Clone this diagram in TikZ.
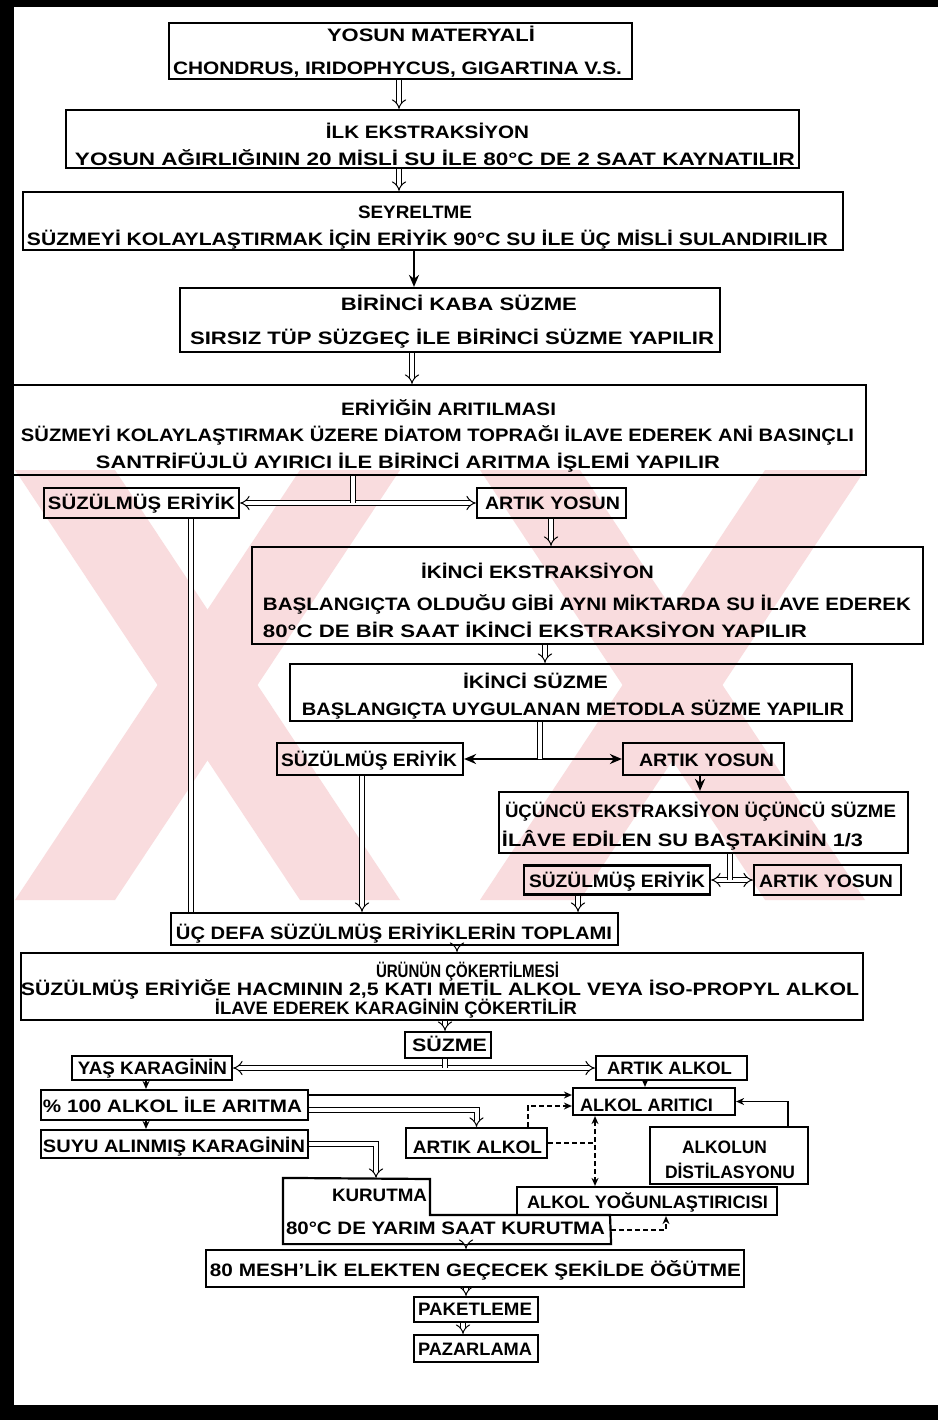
\documentclass[tikz,border=0pt]{standalone}
\usepackage{fontspec}
\setmainfont{Liberation Sans}
\usepackage{graphicx}
\usetikzlibrary{arrows.meta}

\newlength{\pxu}
\setlength{\pxu}{1pt}
% one line of text, stretched to a width given in pixels
\newcommand{\satir}[2]{\resizebox{#1\pxu}{\height}{#2}}

\definecolor{filigran}{RGB}{249,220,222}

\tikzset{
  kutu/.style 2 args={draw, line width=2.2pt, inner sep=0pt,
    minimum width=#1pt, minimum height=#2pt},
  yazi/.style={inner sep=0pt, font=\fontsize{18}{18}\selectfont\bfseries,
    text height=12.8pt, text depth=0pt},
  cift/.style={double, line width=1pt, double distance=4pt, -{Implies}},
  tek/.style={line width=2.8pt, -{Stealth[length=12pt,width=10pt]}},
  ince/.style={line width=1.6pt, -{Stealth[length=8pt,width=7pt]}},
  kesik/.style={line width=1.6pt, dash pattern=on 5pt off 3pt},
  uc/.style={-{Stealth[length=8pt,width=7pt]}},
  ikiuc/.style={{Stealth[length=8pt,width=7pt]}-{Stealth[length=8pt,width=7pt]}},
}

\begin{document}
\begin{tikzpicture}[x=1pt, y=-1pt]
  \useasboundingbox (0,0) rectangle (937,1420);
  \fill[white] (-20,-20) rectangle (960,1440);

  % watermark
  \fill[filigran] (15,470) -- (115,470) -- (400,900) -- (300,900) -- cycle;
  \fill[filigran] (300,470) -- (400,470) -- (115,900) -- (15,900) -- cycle;
  \fill[filigran] (480,470) -- (580,470) -- (865,900) -- (765,900) -- cycle;
  \fill[filigran] (765,470) -- (865,470) -- (580,900) -- (480,900) -- cycle;

  % page frame
  \fill (-20,-20) rectangle (960,7);
  \fill (-20,-20) rectangle (14,1440);
  \fill (-20,1405) rectangle (960,1440);

  % boxes
  \node[kutu={463}{56}] (yosun) at (400.5,51) {};
  \node[kutu={733}{58}] (ilk) at (432.5,139) {};
  \node[kutu={820}{58}] (seyrel) at (433,221) {};
  \node[kutu={540}{64}] (birinci) at (450,320) {};
  \node[kutu={854}{90}] (aritma) at (439,430) {};
  \node[kutu={195}{30}] (suz1) at (141.5,503) {};
  \node[kutu={149}{30}] (artik1) at (551.5,503) {};
  \node[kutu={671}{97}] (ikinci) at (587.5,595.5) {};
  \node[kutu={562}{57}] (isuzme) at (571,692.5) {};
  \node[kutu={186}{32}] (suz2) at (370,759) {};
  \node[kutu={161}{32}] (artik2) at (703.5,759) {};
  \node[kutu={409}{61}] (ucuncu) at (703.5,822.5) {};
  \node[kutu={186}{29}] (suz3) at (617,880) {};
  \node[kutu={147}{30}] (artik3) at (827.5,880) {};
  \node[kutu={447}{32}] (toplam) at (394.5,929) {};
  \node[kutu={842}{67}] (cokelme) at (442,986.5) {};
  \node[kutu={86}{26}] (suzme) at (448,1045) {};
  \node[kutu={160}{24}] (yas) at (152,1068) {};
  \node[kutu={151}{24}] (aalkol1) at (671.5,1068) {};
  \node[kutu={267}{30}] (yuzde) at (174.5,1105) {};
  \node[kutu={267}{28}] (suyu) at (174.5,1144) {};
  \node[kutu={162}{27}] (aritici) at (654,1101.5) {};
  \node[kutu={141}{30}] (aalkol2) at (476.5,1143) {};
  \node[kutu={158}{57}] (distil) at (729,1155.5) {};
  \node[kutu={260}{28}] (yogun) at (647,1201) {};
  \node[kutu={326}{64}, draw=none] (kurutma) at (447,1211) {};
  \draw[line width=2.2pt] (kurutma.north west) -- (430,1179) -- (430,1215)
    -- (610,1215) -- (kurutma.south east) -- (kurutma.south west) -- cycle;
  \node[kutu={538}{37}] (mesh) at (475,1268.5) {};
  \node[kutu={124}{25}] (paket) at (476,1309.5) {};
  \node[kutu={124}{27}] (pazar) at (476,1348.5) {};

  % texts
  \node[yazi] (yosun-1) at (431,35) {\satir{208}{YOSUN MATERYALİ}};
  \node[yazi] (yosun-2) at (397.5,68) {\satir{449}{CHONDRUS, IRIDOPHYCUS, GIGARTINA V.S.}};
  \node[yazi] (ilk-1) at (427.5,132) {\satir{203}{İLK EKSTRAKSİYON}};
  \node[yazi] (ilk-2) at (435,159) {\satir{720}{YOSUN AĞIRLIĞININ 20 MİSLİ SU İLE 80°C DE 2 SAAT KAYNATILIR}};
  \node[yazi] (seyrel-1) at (415,212) {\satir{114}{SEYRELTME}};
  \node[yazi] (seyrel-2) at (427.5,239) {\satir{801}{SÜZMEYİ KOLAYLAŞTIRMAK İÇİN ERİYİK 90°C SU İLE ÜÇ MİSLİ SULANDIRILIR}};
  \node[yazi] (birinci-1) at (459,304) {\satir{236}{BİRİNCİ KABA SÜZME}};
  \node[yazi] (birinci-2) at (452,338) {\satir{524}{SIRSIZ TÜP SÜZGEÇ İLE BİRİNCİ SÜZME YAPILIR}};
  \node[yazi] (aritma-1) at (448.5,409) {\satir{215}{ERİYİĞİN ARITILMASI}};
  \node[yazi] (aritma-2) at (437.5,435) {\satir{833}{SÜZMEYİ KOLAYLAŞTIRMAK ÜZERE DİATOM TOPRAĞI İLAVE EDEREK ANİ BASINÇLI}};
  \node[yazi] (aritma-3) at (408,462) {\satir{624}{SANTRİFÜJLÜ AYIRICI İLE BİRİNCİ ARITMA İŞLEMİ YAPILIR}};
  \node[yazi] (suz1-1) at (141.5,503) {\satir{187}{SÜZÜLMÜŞ ERİYİK}};
  \node[yazi] (artik1-1) at (552.5,503) {\satir{135}{ARTIK YOSUN}};
  \node[yazi] (ikinci-1) at (537.5,572) {\satir{233}{İKİNCİ EKSTRAKSİYON}};
  \node[yazi] (ikinci-2) at (587,604) {\satir{648}{BAŞLANGIÇTA OLDUĞU GİBİ AYNI MİKTARDA SU İLAVE EDEREK}};
  \node[yazi] (ikinci-3) at (535,631) {\satir{544}{80°C DE BİR SAAT İKİNCİ EKSTRAKSİYON YAPILIR}};
  \node[yazi] (isuzme-1) at (535.5,682) {\satir{145}{İKİNCİ SÜZME}};
  \node[yazi] (isuzme-2) at (573,709) {\satir{542}{BAŞLANGIÇTA UYGULANAN METODLA SÜZME YAPILIR}};
  \node[yazi] (suz2-1) at (369,760) {\satir{176}{SÜZÜLMÜŞ ERİYİK}};
  \node[yazi] (artik2-1) at (706.5,760) {\satir{135}{ARTIK YOSUN}};
  \node[yazi] (ucuncu-1) at (700.5,811) {\satir{391}{ÜÇÜNCÜ EKSTRAKSİYON ÜÇÜNCÜ SÜZME}};
  \node[yazi] (ucuncu-2) at (682.5,840) {\satir{361}{İLÂVE EDİLEN SU BAŞTAKİNİN 1/3}};
  \node[yazi] (suz3-1) at (617,881) {\satir{176}{SÜZÜLMÜŞ ERİYİK}};
  \node[yazi] (artik3-1) at (826,881) {\satir{134}{ARTIK YOSUN}};
  \node[yazi] (toplam-1) at (394,933) {\satir{436}{ÜÇ DEFA SÜZÜLMÜŞ ERİYİKLERİN TOPLAMI}};
  \node[yazi] (cokelme-1) at (467.5,971) {\satir{183}{ÜRÜNÜN ÇÖKERTİLMESİ}};
  \node[yazi] (cokelme-2) at (440,989) {\satir{838}{SÜZÜLMÜŞ ERİYİĞE HACMININ 2,5 KATI METİL ALKOL VEYA İSO-PROPYL ALKOL}};
  \node[yazi] (cokelme-3) at (396,1008) {\satir{362}{İLAVE EDEREK KARAGİNİN ÇÖKERTİLİR}};
  \node[yazi] (suzme-1) at (449.5,1045) {\satir{75}{SÜZME}};
  \node[yazi] (yas-1) at (152.5,1068) {\satir{149}{YAŞ KARAGİNİN}};
  \node[yazi] (aalkol1-1) at (669.5,1068) {\satir{125}{ARTIK ALKOL}};
  \node[yazi] (yuzde-1) at (172.5,1106) {\satir{259}{\% 100 ALKOL İLE ARITMA}};
  \node[yazi] (suyu-1) at (174,1146) {\satir{262}{SUYU ALINMIŞ KARAGİNİN}};
  \node[yazi] (aritici-1) at (646.5,1105) {\satir{133}{ALKOL ARITICI}};
  \node[yazi] (aalkol2-1) at (477.5,1147) {\satir{129}{ARTIK ALKOL}};
  \node[yazi] (distil-1) at (724.5,1147) {\satir{85}{ALKOLUN}};
  \node[yazi] (distil-2) at (730,1172) {\satir{130}{DİSTİLASYONU}};
  \node[yazi] (yogun-1) at (647.5,1202) {\satir{241}{ALKOL YOĞUNLAŞTIRICISI}};
  \node[yazi] (kurutma-1) at (379.5,1195) {\satir{95}{KURUTMA}};
  \node[yazi] (kurutma-2) at (445.5,1228) {\satir{319}{80°C DE YARIM SAAT KURUTMA}};
  \node[yazi] (mesh-1) at (475.5,1270) {\satir{531}{80 MESH'LİK ELEKTEN GEÇECEK ŞEKİLDE ÖĞÜTME}};
  \node[yazi] (paket-1) at (475,1309) {\satir{114}{PAKETLEME}};
  \node[yazi] (pazar-1) at (475,1349) {\satir{114}{PAZARLAMA}};

  % columns and branch points of the connectors
  \coordinate (k1) at (399,0);
  \coordinate (k2) at (414,0);
  \coordinate (k3) at (412,0);
  \coordinate (k4) at (191,0);
  \coordinate (k5) at (551,0);
  \coordinate (k6) at (545,0);
  \coordinate (k7) at (700,0);
  \coordinate (k8) at (362,0);
  \coordinate (k9) at (578,0);
  \coordinate (k10) at (457,0);
  \coordinate (k11) at (445,0);
  \coordinate (k12) at (146,0);
  \coordinate (k13) at (645,0);
  \coordinate (k14) at (528,0);
  \coordinate (k15) at (595,0);
  \coordinate (k16) at (788,0);
  \coordinate (k17) at (376,0);
  \coordinate (k18) at (666,0);
  \coordinate (k19) at (466,0);
  \coordinate (k20) at (463,0);
  \coordinate (h1) at (0,1095);
  \coordinate (h2) at (0,1110);
  \coordinate (h3) at (0,1230);
  \coordinate (h4) at (0,1106);
  \coordinate (d1) at (353,503);
  \coordinate (d2) at (540,759);
  \coordinate (d3) at (730,880);
  \coordinate (d4) at (445,1068);

  % connectors
  \draw[cift] (yosun.south -| k1) -- (ilk.north -| k1);
  \draw[cift] (ilk.south -| k1) -- (seyrel.north -| k1);
  \draw[tek] (seyrel.south -| k2) -- (birinci.north -| k2);
  \draw[cift] (birinci.south -| k3) -- (aritma.north -| k3);
  \draw[cift] (d1) -- (suz1.east);
  \draw[cift] (d1) -- (artik1.west);
  \draw[cift,-] (aritma.south -| d1) -- (d1);
  \draw[cift,-] (suz1.south -| k4) -- (toplam.north -| k4);
  \draw[cift] (artik1.south -| k5) -- (ikinci.north -| k5);
  \draw[cift] (ikinci.south -| k6) -- (isuzme.north -| k6);
  \draw[tek] (d2) -- (suz2.east);
  \draw[tek] (d2) -- (artik2.west);
  \draw[cift,-] (isuzme.south -| d2) -- (d2);
  \draw[tek] (artik2.south -| k7) -- (ucuncu.north -| k7);
  \draw[cift] (suz2.south -| k8) -- (toplam.north -| k8);
  \draw[cift] (d3) -- (suz3.east);
  \draw[cift] (d3) -- (artik3.west);
  \draw[cift,-] (ucuncu.south -| d3) -- (d3);
  \draw[cift] (suz3.south -| k9) -- (toplam.north -| k9);
  \draw[cift] (toplam.south -| k10) -- (cokelme.north -| k10);
  \draw[cift] (cokelme.south -| k11) -- (suzme.north -| k11);
  \draw[cift] (d4) -- (yas.east);
  \draw[cift] (d4) -- (aalkol1.west);
  \draw[cift,-] (suzme.south -| d4) -- (d4);
  \draw[ince] (yas.south -| k12) -- (yuzde.north -| k12);
  \draw[ince] (yuzde.south -| k12) -- (suyu.north -| k12);
  \draw[ince] (yuzde.east |- h1) -- (aritici.west |- h1);
  \draw[cift] (yuzde.east |- h2) -| (aalkol2.north);
  \draw[ince] (aalkol1.south -| k13) -- (aritici.north -| k13);
  \draw[kesik,uc] (aalkol2.north -| k14) |- (aritici.west |- h4);
  \draw[kesik] (aalkol2.east) -- (aalkol2.east -| k15);
  \draw[kesik,ikiuc] (aritici.south -| k15) -- (yogun.north -| k15);
  \draw[ince] (distil.north -| k16) |- (aritici.east);
  \draw[cift] (suyu.east) -| (kurutma.north -| k17);
  \draw[kesik,uc] (kurutma.east |- h3) -| (yogun.south -| k18);
  \draw[cift] (kurutma.south -| k19) -- (mesh.north -| k19);
  \draw[cift] (mesh.south -| k19) -- (paket.north -| k19);
  \draw[cift] (paket.south -| k20) -- (pazar.north -| k20);
\end{tikzpicture}
\end{document}
